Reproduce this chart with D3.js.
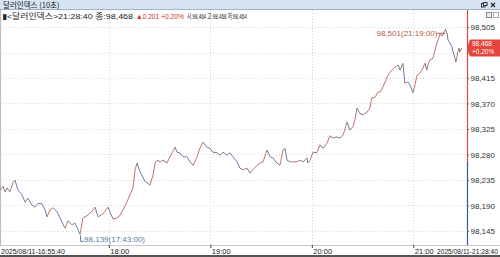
<!DOCTYPE html>
<html>
<head>
<meta charset="utf-8">
<script src="https://cdn.jsdelivr.net/npm/d3@7"></script>
<style>
  html, body { margin: 0; padding: 0; background: #fff; }
  svg { display: block; font-family: "Liberation Sans Narrow", "Liberation Sans", "Noto Sans CJK KR", "DejaVu Sans", sans-serif; }
</style>
</head>
<body>
<div id="chart"></div>
<script>
// 시간(10초봉) 및 종가
const times = [
  '16:55:40', '16:57:30', '16:58:40', '16:59:50', '17:01:30', '17:03:20', '17:04:30', '17:06:20',
  '17:08:40', '17:10:30', '17:12:10', '17:14:30', '17:16:20', '17:18:10', '17:20:30', '17:22:20',
  '17:23:30', '17:25:10', '17:27:00', '17:29:20', '17:31:10', '17:33:00', '17:34:10', '17:35:50',
  '17:38:10', '17:40:00', '17:43:00', '17:44:40', '17:47:40', '17:50:00', '17:51:50', '17:53:40',
  '17:56:30', '17:59:30', '18:02:30', '18:04:50', '18:06:40', '18:08:20', '18:10:40', '18:12:30',
  '18:14:20', '18:15:30', '18:16:40', '18:18:30', '18:21:20', '18:24:20', '18:26:10', '18:27:20',
  '18:28:30', '18:30:20', '18:32:00', '18:34:20', '18:36:10', '18:39:10', '18:40:20', '18:42:00',
  '18:43:50', '18:46:10', '18:48:00', '18:49:50', '18:52:10', '18:53:50', '18:55:40', '18:58:00',
  '18:59:50', '19:01:30', '19:04:00', '19:05:40', '19:07:30', '19:09:50', '19:11:40', '19:13:20',
  '19:15:50', '19:17:30', '19:19:20', '19:21:40', '19:23:30', '19:25:10', '19:27:40', '19:29:20',
  '19:31:10', '19:33:30', '19:35:20', '19:37:00', '19:39:20', '19:41:10', '19:43:00', '19:44:10',
  '19:45:20', '19:47:10', '19:48:50', '19:51:10', '19:53:00', '19:54:50', '19:57:10', '19:57:40',
  '19:59:00', '20:00:40', '20:03:00', '20:04:50', '20:06:40', '20:09:00', '20:10:40', '20:12:30',
  '20:14:50', '20:16:40', '20:18:30', '20:20:50', '20:22:30', '20:24:20', '20:25:30', '20:26:40',
  '20:28:30', '20:30:20', '20:32:40', '20:34:20', '20:35:30', '20:37:20', '20:39:10', '20:40:20',
  '20:42:00', '20:43:20', '20:45:00', '20:47:20', '20:49:10', '20:51:00', '20:52:10', '20:53:50',
  '20:55:00', '20:56:50', '20:58:00', '20:59:50', '21:01:00', '21:02:10', '21:04:00', '21:05:10',
  '21:06:50', '21:08:00', '21:08:40', '21:09:50', '21:11:40', '21:12:50', '21:14:00', '21:15:50',
  '21:17:00', '21:19:00', '21:20:00', '21:20:30', '21:21:40', '21:22:50', '21:23:30', '21:24:40',
  '21:25:10', '21:25:50', '21:26:20', '21:27:00', '21:27:30', '21:28:40'
];
const prices = [
  98.217, 98.224, 98.214, 98.221, 98.214, 98.230, 98.235, 98.217,
  98.209, 98.196, 98.203, 98.191, 98.187, 98.194, 98.193, 98.182,
  98.170, 98.182, 98.186, 98.179, 98.168, 98.156, 98.150, 98.163,
  98.156, 98.159, 98.139, 98.168, 98.173, 98.180, 98.187, 98.170,
  98.175, 98.187, 98.166, 98.168, 98.173, 98.182, 98.196, 98.209,
  98.221, 98.253, 98.265, 98.249, 98.233, 98.226, 98.244, 98.265,
  98.270, 98.267, 98.270, 98.265, 98.276, 98.293, 98.284, 98.283,
  98.276, 98.276, 98.267, 98.261, 98.276, 98.291, 98.302, 98.293,
  98.291, 98.284, 98.283, 98.279, 98.284, 98.279, 98.283, 98.276,
  98.267, 98.256, 98.253, 98.256, 98.247, 98.253, 98.261, 98.265,
  98.267, 98.288, 98.276, 98.274, 98.265, 98.261, 98.288, 98.291,
  98.270, 98.267, 98.267, 98.267, 98.270, 98.267, 98.274, 98.265,
  98.270, 98.284, 98.283, 98.297, 98.291, 98.300, 98.313, 98.309,
  98.311, 98.309, 98.314, 98.337, 98.323, 98.329, 98.341, 98.362,
  98.352, 98.350, 98.355, 98.362, 98.380, 98.381, 98.390, 98.390,
  98.399, 98.408, 98.420, 98.429, 98.434, 98.438, 98.429, 98.441,
  98.406, 98.408, 98.403, 98.389, 98.403, 98.420, 98.424, 98.429,
  98.441, 98.429, 98.438, 98.447, 98.450, 98.464, 98.477, 98.493,
  98.489, 98.501, 98.494, 98.482, 98.477, 98.470, 98.461, 98.450,
  98.443, 98.452, 98.461, 98.468, 98.461, 98.468
];
const yTicks = [98.505, 98.460, 98.415, 98.370, 98.325, 98.280, 98.235, 98.190, 98.145];
const xTicks = ['18:00', '19:00', '20:00', '21:00'];
const prevClose = 98.267; // 전일종가 (98.468 - 0.201)
const maxPoint = { time: '21:19:00', value: 98.501 };
const minPoint = { time: '17:43:00', value: 98.139 };
const startLabel = '2025/08/11-16:55:40';
const endLabel = '2025/08/11-21:28:40';
const infoParts = ['▮<달러인덱스>21:28:40 종:98,468', '▲0.201 +0.20%', '시:98,464 고:98,468 저:98,464'];

const W = 500;
const H = 257;
const KR = '"Noto Sans CJK KR", sans-serif';
const parseT = d3.timeParse('%H:%M:%S');
const data = times.map((t, i) => ({ t: parseT(t), v: prices[i] }));
const fmtPrice = v => v.toFixed(3).replace('.', ',');

const svg = d3.select('#chart').append('svg')
  .attr('width', W)
  .attr('height', H);

// 글자 폭을 주어진 너비에 맞게 가로로 조절 (stretch=false 이면 줄이기만)
function fitText(sel, x0, y0, width, stretch) {
  const w = sel.node().getComputedTextLength();
  const k = (stretch || w > width) ? width / w : 1;
  sel.attr('x', 0).attr('y', 0)
    .attr('transform', `translate(${x0},${y0}) scale(${k},1)`);
}

const plotRight = 467;
const x = d3.scaleTime()
  .domain([parseT('16:55:40'), parseT('21:28:40')])
  .range([0, 461.8]);
const y = d3.scaleLinear()
  .domain([98.145, 98.505])
  .range([231, 27]);
const last = data[data.length - 1];
const cy = y(last.v);

// 타이틀바
svg.append('rect').attr('x', 0).attr('y', 0).attr('width', W).attr('height', 10)
  .attr('fill', '#d7e4f1');
svg.append('line').attr('x1', 0).attr('x2', W).attr('y1', 9.5).attr('y2', 9.5)
  .attr('stroke', '#9fb3c8');
svg.append('text').attr('x', 3).attr('y', 8)
  .attr('font-size', '7.5px').attr('font-family', KR).attr('fill', '#222')
  .text('달러인덱스 (10초)');
// 창 아이콘
svg.append('rect').attr('x', 481.5).attr('y', 3.5).attr('width', 3.5).attr('height', 3.5)
  .attr('fill', 'none').attr('stroke', '#333');
svg.append('rect').attr('x', 483.5).attr('y', 2.5).attr('width', 3.5).attr('height', 3)
  .attr('fill', '#d7e4f1').attr('stroke', '#333');
svg.append('path').attr('d', 'M491,3L495,7M495,3L491,7')
  .attr('stroke', '#222').attr('stroke-width', 1.2);

// 그리드
const grid = svg.append('g');
grid.selectAll('.hgrid')
  .data(yTicks)
  .enter()
  .append('line')
  .attr('x1', 0).attr('x2', plotRight)
  .attr('y1', d => Math.round(y(d)) + 0.5).attr('y2', d => Math.round(y(d)) + 0.5)
  .attr('stroke', '#d6d6d6').attr('stroke-dasharray', '1,2');
grid.selectAll('.vgrid')
  .data(xTicks)
  .enter()
  .append('line')
  .attr('x1', d => Math.round(x(parseT(d + ':00'))) + 0.5)
  .attr('x2', d => Math.round(x(parseT(d + ':00'))) + 0.5)
  .attr('y1', 10).attr('y2', 245)
  .attr('stroke', '#d6d6d6').attr('stroke-dasharray', '1,2');

// 왼쪽 테두리
svg.append('line').attr('x1', 0.5).attr('x2', 0.5).attr('y1', 10).attr('y2', 245)
  .attr('stroke', '#b8b8b8');

// 정보행 (세 부분)
const infoX = [2, 136, 187];
const infoLen = [131, 48, 60];
const infoColor = ['#222', '#d0302a', '#222'];
infoParts.forEach((d, i) => {
  const t = svg.append('text')
    .attr('font-size', '7.5px')
    .attr('fill', infoColor[i])
    .text(d);
  fitText(t, infoX[i], 18.5, infoLen[i], true);
});
// 작은 버튼
svg.append('rect').attr('x', 486.5).attr('y', 12.5).attr('width', 5).attr('height', 5)
  .attr('fill', '#eee').attr('stroke', '#888');
svg.append('rect').attr('x', 493.5).attr('y', 12.5).attr('width', 5).attr('height', 5)
  .attr('fill', '#fff').attr('stroke', '#aaa');

// 가격 라인 (상승 빨강 / 하락 파랑)
const segs = d3.pairs(data);
svg.append('g')
  .selectAll('line')
  .data(segs)
  .enter()
  .append('line')
  .attr('x1', d => x(d[0].t))
  .attr('y1', d => y(d[0].v))
  .attr('x2', d => x(d[1].t))
  .attr('y2', d => y(d[1].v))
  .attr('stroke', d => (d[1].v >= d[0].v ? '#b8645c' : '#5a6e98'))
  .attr('stroke-width', 0.9);

// 오른쪽 축 선: 전일종가 기준 위 빨강, 아래 파랑
svg.append('line').attr('x1', plotRight + 0.5).attr('x2', plotRight + 0.5)
  .attr('y1', 10).attr('y2', y(prevClose))
  .attr('stroke', '#e0443c').attr('stroke-width', 1.2);
svg.append('line').attr('x1', plotRight + 0.5).attr('x2', plotRight + 0.5)
  .attr('y1', y(prevClose)).attr('y2', 245)
  .attr('stroke', '#3558a0').attr('stroke-width', 1.2);

// y축 눈금 (현재가 박스에 가려지는 눈금 글자는 생략)
const yAxis = svg.append('g')
  .attr('transform', `translate(${plotRight},0)`)
  .call(d3.axisRight(y)
    .tickValues(yTicks)
    .tickFormat(d => (Math.abs(y(d) - cy) < 10 ? '' : fmtPrice(d)))
    .tickSize(2)
    .tickPadding(1.5));
yAxis.select('.domain').remove();
yAxis.selectAll('.tick line').attr('stroke', '#666');
yAxis.selectAll('.tick text')
  .attr('font-size', '8px')
  .attr('font-family', null)
  .attr('fill', '#333');

// 하단 x축
svg.append('line').attr('x1', 0).attr('x2', W).attr('y1', 245.5).attr('y2', 245.5)
  .attr('stroke', '#c8c8c8');
const xAxis = svg.append('g')
  .attr('transform', 'translate(0,245)')
  .call(d3.axisBottom(x)
    .tickValues(xTicks.map(d => parseT(d + ':00')))
    .tickFormat(d3.timeFormat('%H:%M'))
    .tickSize(3)
    .tickPadding(0));
xAxis.select('.domain').remove();
xAxis.selectAll('.tick line').attr('stroke', '#444');
xAxis.selectAll('.tick text')
  .attr('text-anchor', 'start')
  .attr('x', 1)
  .attr('dy', '0')
  .attr('y', 8.5)
  .attr('font-size', '7.5px')
  .attr('font-family', null)
  .attr('fill', '#222');
fitText(svg.append('text').attr('font-size', '7.5px').attr('fill', '#222').text(startLabel),
  1, 253.5, 64);
fitText(svg.append('text').attr('font-size', '7.5px').attr('fill', '#222').text(endLabel),
  437, 253.5, 61);
svg.append('rect').attr('x', 0).attr('y', 255).attr('width', W).attr('height', 2)
  .attr('fill', '#555');

// 최고가 표시
const mx = x(parseT(maxPoint.time));
const my = y(maxPoint.value);
svg.append('line').attr('x1', mx - 8).attr('x2', mx).attr('y1', my + 4).attr('y2', my + 4)
  .attr('stroke', '#b85a48');
svg.append('text').attr('x', mx - 8).attr('y', my + 7)
  .attr('text-anchor', 'end').attr('font-size', '8px').attr('fill', '#b85a48')
  .text(`${fmtPrice(maxPoint.value)}(${maxPoint.time})`);

// 최저가 표시
const nx = x(parseT(minPoint.time));
const ny = y(minPoint.value);
svg.append('path')
  .attr('d', `M${nx + 0.5},${ny + 1}V${ny + 7}H${nx + 4}`)
  .attr('fill', 'none').attr('stroke', '#5a7aa8');
svg.append('text').attr('x', nx + 4).attr('y', ny + 8)
  .attr('font-size', '8px').attr('fill', '#5a7aa8')
  .text(`${fmtPrice(minPoint.value)}(${minPoint.time})`);

// 현재가 박스
svg.append('path')
  .attr('d', `M${plotRight},${cy}L${plotRight + 3},${cy - 8.5}H${W}V${cy + 8.5}H${plotRight + 3}Z`)
  .attr('fill', '#e2463c');
const box = svg.append('text').attr('font-size', '6.5px').attr('fill', '#fff')
  .attr('font-family', '"Liberation Sans", sans-serif');
box.append('tspan').attr('x', 472).attr('y', cy - 2).text(fmtPrice(last.v));
box.append('tspan').attr('x', 472).attr('y', cy + 6.5).text('+0.20%');
</script>
</body>
</html>
